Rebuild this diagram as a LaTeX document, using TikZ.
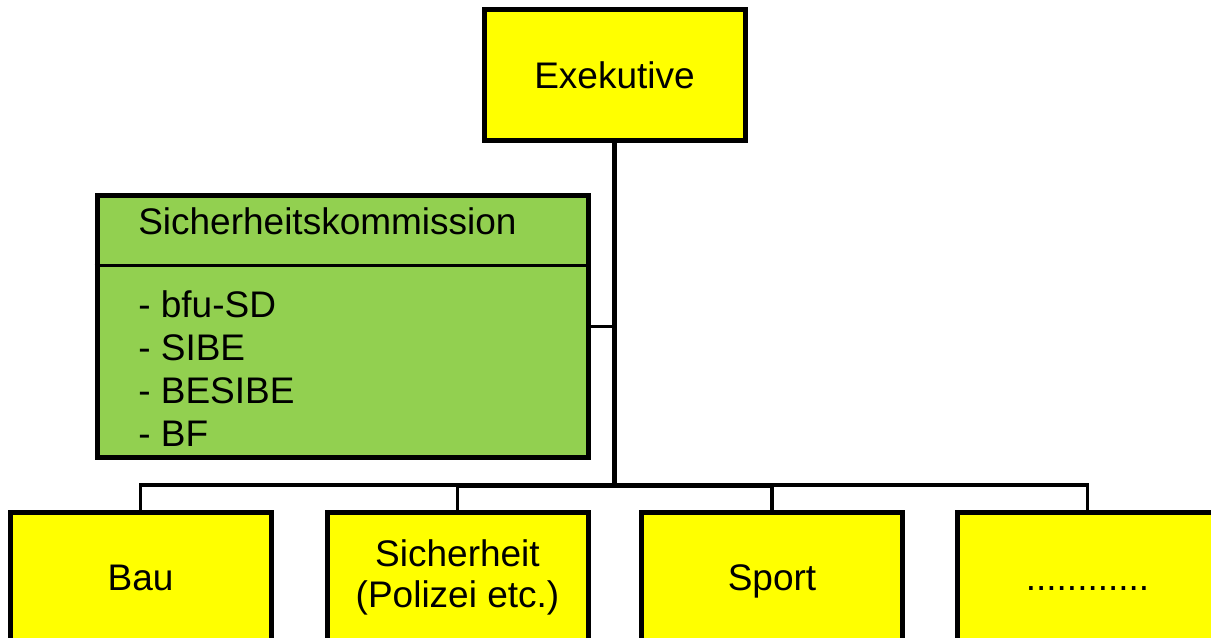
\documentclass[tikz,border=0pt]{standalone}
\usepackage{fontspec}
\setmainfont{Liberation Sans}
\usepackage{tikz}
\usetikzlibrary{positioning}
\usetikzlibrary{calc}
\definecolor{gelb}{HTML}{FFFF00}
\definecolor{gruen}{HTML}{92D050}

\begin{document}
\begin{tikzpicture}[
    x=0.75pt, y=-0.75pt,
    amt/.style={rectangle, draw, line width=3.75pt, fill=gelb, minimum width=195.75pt, minimum height=98.25pt, inner sep=0pt, align=center, font=\fontsize{27.75}{31}\selectfont},
    einzeln/.style={text height=20pt, text depth=0pt},
    komm/.style={rectangle, draw, line width=3.75pt, fill=gruen, minimum width=368.25pt, minimum height=195.75pt, inner sep=0pt},
    txt/.style={inner sep=0pt, align=left, font=\fontsize{27.75}{32.25}\selectfont},
    stamm/.style={line width=3.75pt},
    ast/.style={line width=2.6pt}
]
\useasboundingbox (0,0) rectangle (1211,638);
\clip (0,0) rectangle (1211,638);

% Exekutive
\node[amt] (exe) at (614.5,75.5) {Exekutive};

% Sicherheitskommission
\node[komm] (komm) at (342.5,326.5) {};
\draw[line width=2.6pt] ([yshift=-54pt]komm.north west) -- ([yshift=-54pt]komm.north east);
\node[txt, anchor=base west] (titel) at (138,235) {Sicherheitskommission};
\node[txt, anchor=north west] (liste) at (138,290) {- bfu-SD\\- SIBE\\- BESIBE\\- BF};

% Abteilungen
\node[amt, einzeln] (bau) at (140.5,577.5) {Bau};
\node[amt] (sich) at (457.5,577.5) {Sicherheit\\(Polizei etc.)};
\node[amt, einzeln] (sport) at (772,577.5) {Sport};
\node[amt, einzeln] (dots) at (1087.5,577.5) {............};

% Verbindungen
\coordinate (knick) at (614.5,485);
\draw[ast] (komm.east) -- (komm.east -| exe.south);
\draw[ast] (bau.north) |- (knick);
\draw[ast] (sich.north) |- (knick);
\draw[ast] (sport.north) |- (knick);
\draw[ast] (dots.north) |- (knick);
\draw[stamm] (exe.south) -- (knick);
\draw[stamm] (knick -| sich.north) -- (knick -| sport.north);

\end{tikzpicture}
\end{document}
